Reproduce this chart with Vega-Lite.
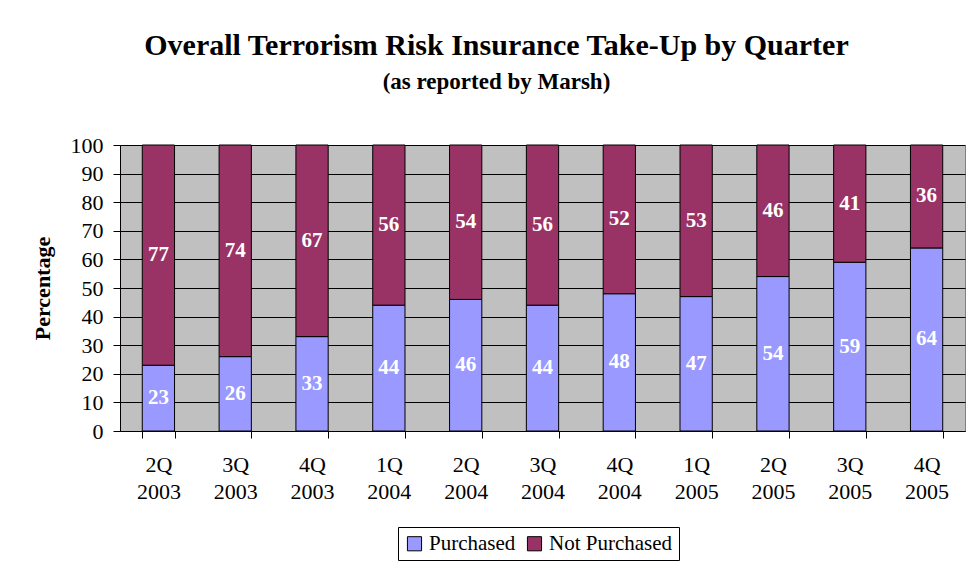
{
  "$schema": "https://vega.github.io/schema/vega-lite/v6.json",
  "width": 845,
  "height": 286,
  "autosize": "none",
  "padding": {"left": 120, "top": 145, "right": 2, "bottom": 130},
  "background": "white",
  "title": {
    "text": "Overall Terrorism Risk Insurance Take-Up by Quarter",
    "subtitle": "(as reported by Marsh)",
    "font": "Liberation Serif",
    "fontSize": 30,
    "fontWeight": "bold",
    "color": "black",
    "subtitleFont": "Liberation Serif",
    "subtitleFontSize": 23,
    "subtitleFontWeight": "bold",
    "subtitleColor": "black",
    "subtitlePadding": 10,
    "anchor": "middle",
    "dx": -46,
    "offset": 40
  },
  "data": {
    "values": [
      {"quarter": "2Q 2003", "status": "Purchased", "value": 23},
      {"quarter": "2Q 2003", "status": "Not Purchased", "value": 77},
      {"quarter": "3Q 2003", "status": "Purchased", "value": 26},
      {"quarter": "3Q 2003", "status": "Not Purchased", "value": 74},
      {"quarter": "4Q 2003", "status": "Purchased", "value": 33},
      {"quarter": "4Q 2003", "status": "Not Purchased", "value": 67},
      {"quarter": "1Q 2004", "status": "Purchased", "value": 44},
      {"quarter": "1Q 2004", "status": "Not Purchased", "value": 56},
      {"quarter": "2Q 2004", "status": "Purchased", "value": 46},
      {"quarter": "2Q 2004", "status": "Not Purchased", "value": 54},
      {"quarter": "3Q 2004", "status": "Purchased", "value": 44},
      {"quarter": "3Q 2004", "status": "Not Purchased", "value": 56},
      {"quarter": "4Q 2004", "status": "Purchased", "value": 48},
      {"quarter": "4Q 2004", "status": "Not Purchased", "value": 52},
      {"quarter": "1Q 2005", "status": "Purchased", "value": 47},
      {"quarter": "1Q 2005", "status": "Not Purchased", "value": 53},
      {"quarter": "2Q 2005", "status": "Purchased", "value": 54},
      {"quarter": "2Q 2005", "status": "Not Purchased", "value": 46},
      {"quarter": "3Q 2005", "status": "Purchased", "value": 59},
      {"quarter": "3Q 2005", "status": "Not Purchased", "value": 41},
      {"quarter": "4Q 2005", "status": "Purchased", "value": 64},
      {"quarter": "4Q 2005", "status": "Not Purchased", "value": 36}
    ]
  },
  "transform": [
    {"calculate": "datum.status == 'Purchased' ? 0 : 1", "as": "rank"}
  ],
  "encoding": {
    "x": {
      "field": "quarter",
      "type": "nominal",
      "sort": null,
      "scale": {"paddingInner": 0.58, "paddingOuter": 0.29},
      "axis": {
        "title": null,
        "labelAngle": 0,
        "labelExpr": "split(datum.label, ' ')",
        "labelFont": "Liberation Serif",
        "labelFontSize": 22,
        "labelColor": "black",
        "labelLineHeight": 27,
        "labelPadding": 16,
        "tickBand": "extent",
        "tickColor": "black",
        "tickSize": 7,
        "domainColor": "black",
        "grid": false
      }
    }
  },
  "layer": [
    {
      "mark": {"type": "bar", "stroke": "black", "strokeWidth": 1},
      "encoding": {
        "y": {
          "field": "value",
          "type": "quantitative",
          "stack": "zero",
          "scale": {"domain": [0, 100]},
          "axis": {
            "title": "Percentage",
            "titleFont": "Liberation Serif",
            "titleFontSize": 22,
            "titleFontWeight": "bold",
            "titleColor": "black",
            "titlePadding": 16,
            "values": [0, 10, 20, 30, 40, 50, 60, 70, 80, 90, 100],
            "labelOverlap": false,
            "labelFont": "Liberation Serif",
            "labelFontSize": 22,
            "labelColor": "black",
            "labelPadding": 10,
            "tickColor": "black",
            "tickSize": 7,
            "domainColor": "black",
            "gridColor": "black",
            "gridOpacity": 1
          }
        },
        "color": {
          "field": "status",
          "type": "nominal",
          "scale": {
            "domain": ["Purchased", "Not Purchased"],
            "range": ["#9999FF", "#993366"]
          },
          "legend": {
            "title": null,
            "orient": "none",
            "legendX": 278,
            "legendY": 382,
            "direction": "horizontal",
            "padding": 6,
            "strokeColor": "black",
            "symbolType": "square",
            "symbolSize": 200,
            "symbolStrokeColor": "black",
            "symbolStrokeWidth": 1,
            "symbolOpacity": 1,
            "labelFont": "Liberation Serif",
            "labelFontSize": 21,
            "labelColor": "black",
            "labelOffset": 4,
            "columnPadding": 8
          }
        },
        "order": {"field": "rank", "type": "quantitative"}
      }
    },
    {
      "transform": [
        {"stack": "value", "groupby": ["quarter"], "sort": [{"field": "rank"}], "as": ["v0", "v1"]},
        {"calculate": "(datum.v0 + datum.v1) / 2", "as": "mid"}
      ],
      "mark": {
        "type": "text",
        "font": "Liberation Serif",
        "fontSize": 21,
        "fontWeight": "bold",
        "color": "white",
        "baseline": "middle"
      },
      "encoding": {
        "y": {
          "field": "mid",
          "type": "quantitative",
          "axis": {
            "values": [0, 10, 20, 30, 40, 50, 60, 70, 80, 90, 100],
            "labelOverlap": false
          }
        },
        "text": {"field": "value", "type": "quantitative"}
      }
    }
  ],
  "config": {
    "view": {"fill": "#C0C0C0", "stroke": "#808080", "strokeWidth": 1}
  }
}
